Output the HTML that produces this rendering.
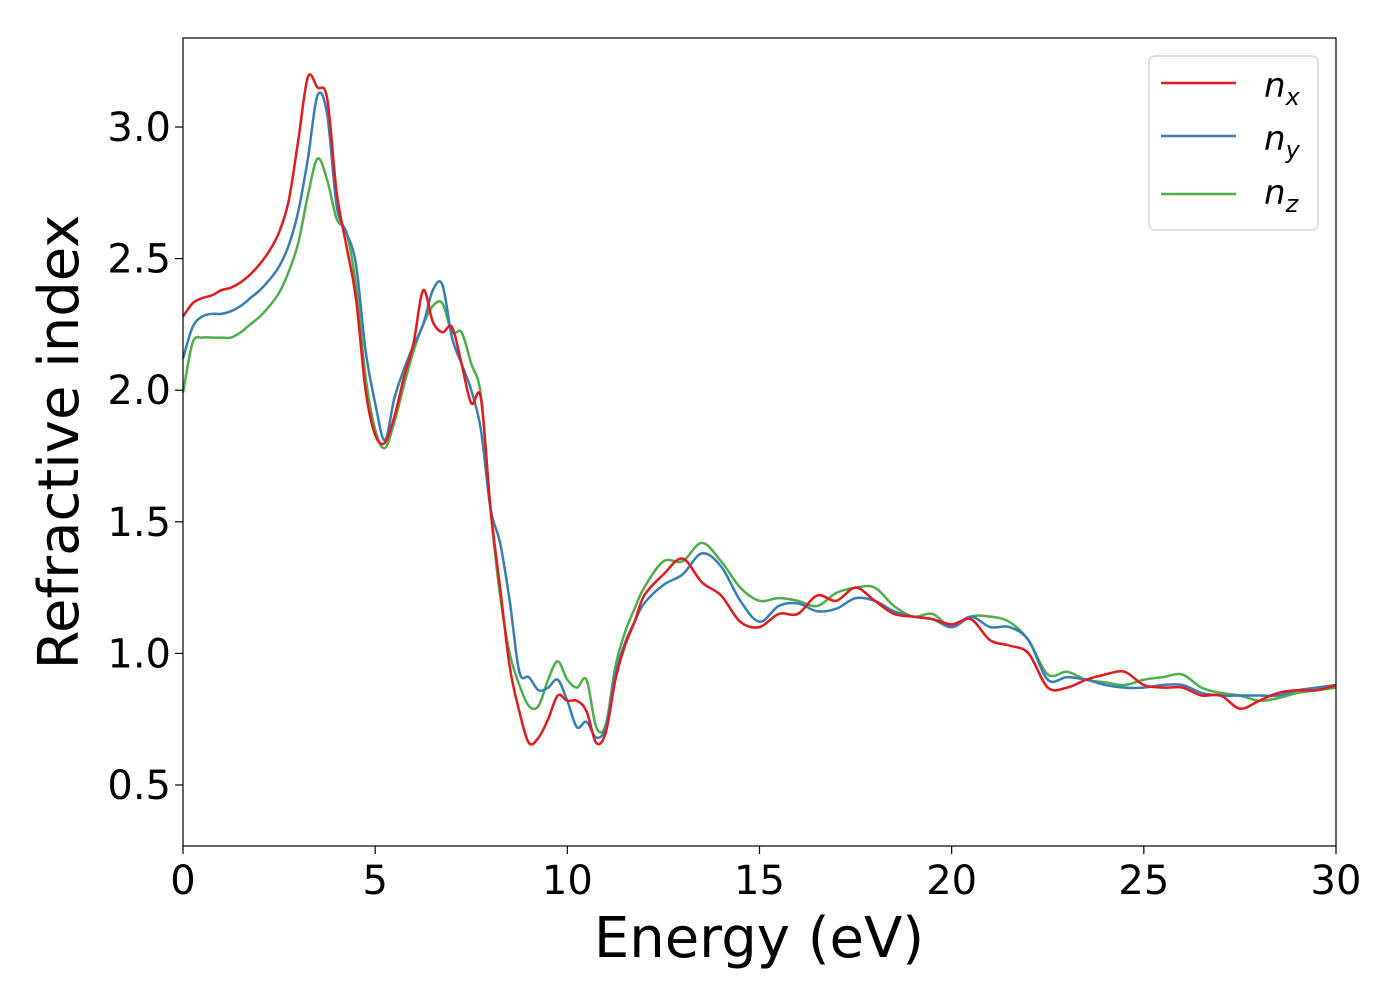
<!DOCTYPE html>
<html><head><meta charset="utf-8"><style>
html,body{margin:0;padding:0;background:#fff;}
svg{display:block;font-family:"DejaVu Sans","Liberation Sans",sans-serif;}
</style></head><body>
<svg id="chart" width="1400" height="1000" viewBox="0 0 1400 1000" xmlns="http://www.w3.org/2000/svg">
<rect x="0" y="0" width="1400" height="1000" fill="#fff"/>
<g id="series"></g>
<rect x="183" y="38" width="1153" height="808" fill="none" stroke="#000" stroke-width="1.2"/>
<g id="xticks"></g>
<g id="yticks"></g>
<text x="759" y="957" font-size="56" text-anchor="middle">Energy (eV)</text>
<text transform="translate(78,442) rotate(-90)" font-size="56" text-anchor="middle">Refractive index</text>
<g>
<rect x="1149" y="56" width="169" height="174" rx="6" fill="#fff" stroke="#ccc" stroke-width="1.2"/>
<g><line x1="1161" y1="83" x2="1236" y2="83" stroke="#e41a1c" stroke-width="2.5"/><text x="1264" y="97" font-size="34" font-style="italic">n<tspan font-size="24" dy="8">x</tspan></text></g>
<g><line x1="1161" y1="136" x2="1236" y2="136" stroke="#377eb8" stroke-width="2.5"/><text x="1264" y="150" font-size="34" font-style="italic">n<tspan font-size="24" dy="8">y</tspan></text></g>
<g><line x1="1161" y1="194" x2="1236" y2="194" stroke="#4daf4a" stroke-width="2.5"/><text x="1264" y="204" font-size="34" font-style="italic">n<tspan font-size="24" dy="8">z</tspan></text></g>
</g>
</svg>
<script>
const energy=[0,0.25,0.5,0.75,1,1.25,1.5,1.75,2,2.25,2.5,2.75,3,3.25,3.5,3.75,4,4.25,4.5,4.75,5,5.25,5.5,5.75,6,6.25,6.5,6.75,7,7.25,7.5,7.75,8,8.25,8.5,8.75,9,9.25,9.5,9.75,10,10.25,10.5,10.75,11,11.25,11.5,11.75,12,12.5,13,13.5,14,14.5,15,15.5,16,16.5,17,17.5,18,18.5,19,19.5,20,20.5,21,21.5,22,22.5,23,23.5,24,24.5,25,25.5,26,26.5,27,27.5,28,28.5,29,29.5,30];
const nx=[2.28,2.33,2.35,2.36,2.38,2.39,2.41,2.44,2.48,2.53,2.60,2.72,2.95,3.19,3.15,3.11,2.75,2.55,2.35,2.0,1.83,1.80,1.90,2.05,2.18,2.38,2.26,2.22,2.24,2.10,1.95,1.97,1.55,1.25,0.95,0.78,0.66,0.68,0.75,0.84,0.82,0.82,0.78,0.66,0.70,0.90,1.03,1.12,1.22,1.30,1.36,1.27,1.22,1.12,1.10,1.15,1.15,1.22,1.20,1.25,1.20,1.15,1.14,1.13,1.11,1.13,1.05,1.03,1.0,0.87,0.87,0.90,0.92,0.93,0.88,0.87,0.87,0.84,0.84,0.79,0.82,0.85,0.86,0.86,0.88];
const ny=[2.12,2.24,2.28,2.29,2.29,2.30,2.32,2.35,2.38,2.42,2.47,2.55,2.68,2.88,3.12,3.05,2.70,2.60,2.48,2.15,1.95,1.81,1.97,2.08,2.17,2.25,2.38,2.40,2.20,2.10,2.0,1.85,1.55,1.42,1.20,0.93,0.91,0.86,0.87,0.90,0.82,0.72,0.74,0.68,0.72,0.92,1.04,1.12,1.19,1.26,1.30,1.38,1.33,1.20,1.12,1.18,1.19,1.16,1.17,1.21,1.20,1.16,1.14,1.13,1.10,1.14,1.10,1.10,1.05,0.90,0.91,0.90,0.88,0.87,0.87,0.88,0.88,0.85,0.84,0.84,0.84,0.84,0.86,0.87,0.88];
const nz=[1.99,2.18,2.20,2.20,2.20,2.20,2.22,2.25,2.28,2.32,2.37,2.45,2.56,2.74,2.88,2.80,2.65,2.60,2.40,2.05,1.85,1.78,1.88,2.02,2.15,2.25,2.32,2.33,2.22,2.22,2.10,1.98,1.55,1.22,1.0,0.88,0.80,0.80,0.90,0.97,0.90,0.87,0.90,0.72,0.73,0.95,1.08,1.17,1.25,1.35,1.35,1.42,1.35,1.25,1.20,1.21,1.20,1.18,1.23,1.25,1.25,1.18,1.14,1.15,1.10,1.14,1.14,1.12,1.05,0.92,0.93,0.90,0.89,0.88,0.90,0.91,0.92,0.87,0.85,0.84,0.82,0.83,0.85,0.86,0.87];
const xTicks=[0,5,10,15,20,25,30];
const yTicks=[0.5,1.0,1.5,2.0,2.5,3.0];
const NS="http://www.w3.org/2000/svg";
const X0=183,X1=1336,XMIN=0,XMAX=30;
const YV0=3.0,YP0=127,YV1=0.5,YP1=785;
function xs(v){return X0+(v-XMIN)/(XMAX-XMIN)*(X1-X0);}
function ys(v){return YP0+(v-YV0)/(YV1-YV0)*(YP1-YP0);}
function smoothPath(xv,yv){
  const p=xv.map((x,i)=>[xs(x),ys(yv[i])]);
  let d="M"+p[0][0].toFixed(1)+","+p[0][1].toFixed(1);
  for(let i=0;i<p.length-1;i++){
    const p0=p[Math.max(0,i-1)],p1=p[i],p2=p[i+1],p3=p[Math.min(p.length-1,i+2)];
    const c1=[p1[0]+(p2[0]-p0[0])/6,p1[1]+(p2[1]-p0[1])/6];
    const c2=[p2[0]-(p3[0]-p1[0])/6,p2[1]-(p3[1]-p1[1])/6];
    d+="C"+c1[0].toFixed(1)+","+c1[1].toFixed(1)+" "+c2[0].toFixed(1)+","+c2[1].toFixed(1)+" "+p2[0].toFixed(1)+","+p2[1].toFixed(1);
  }
  return d;
}
const sg=document.getElementById("series");
function addSeries(vals,color,name){
  const el=document.createElementNS(NS,"path");
  el.setAttribute("d",smoothPath(energy,vals));
  el.setAttribute("fill","none");
  el.setAttribute("stroke",color);
  el.setAttribute("stroke-width","2.5");
  el.setAttribute("stroke-linejoin","round");
  
  
  sg.appendChild(el);
}
addSeries(nz,"#4daf4a","line-nz");
addSeries(ny,"#377eb8","line-ny");
addSeries(nx,"#e41a1c","line-nx");
const xg=document.getElementById("xticks");
xTicks.forEach(t=>{
  const l=document.createElementNS(NS,"line");
  l.setAttribute("x1",xs(t));l.setAttribute("x2",xs(t));
  l.setAttribute("y1",846);l.setAttribute("y2",854);
  l.setAttribute("stroke","#000");l.setAttribute("stroke-width","1.2");
  
  
  xg.appendChild(l);
  const tx=document.createElementNS(NS,"text");
  tx.setAttribute("x",xs(t));tx.setAttribute("y",894);
  tx.setAttribute("font-size","40");tx.setAttribute("text-anchor","middle");
  tx.textContent=String(t);
  
  
  xg.appendChild(tx);
});
const yg=document.getElementById("yticks");
yTicks.forEach(t=>{
  const l=document.createElementNS(NS,"line");
  l.setAttribute("x1",175);l.setAttribute("x2",183);
  l.setAttribute("y1",ys(t));l.setAttribute("y2",ys(t));
  l.setAttribute("stroke","#000");l.setAttribute("stroke-width","1.2");
  
  
  yg.appendChild(l);
  const tx=document.createElementNS(NS,"text");
  tx.setAttribute("x",171);tx.setAttribute("y",ys(t)+14);
  tx.setAttribute("font-size","40");tx.setAttribute("text-anchor","end");
  tx.textContent=t.toFixed(1);
  
  
  yg.appendChild(tx);
});
</script>
</body></html>
